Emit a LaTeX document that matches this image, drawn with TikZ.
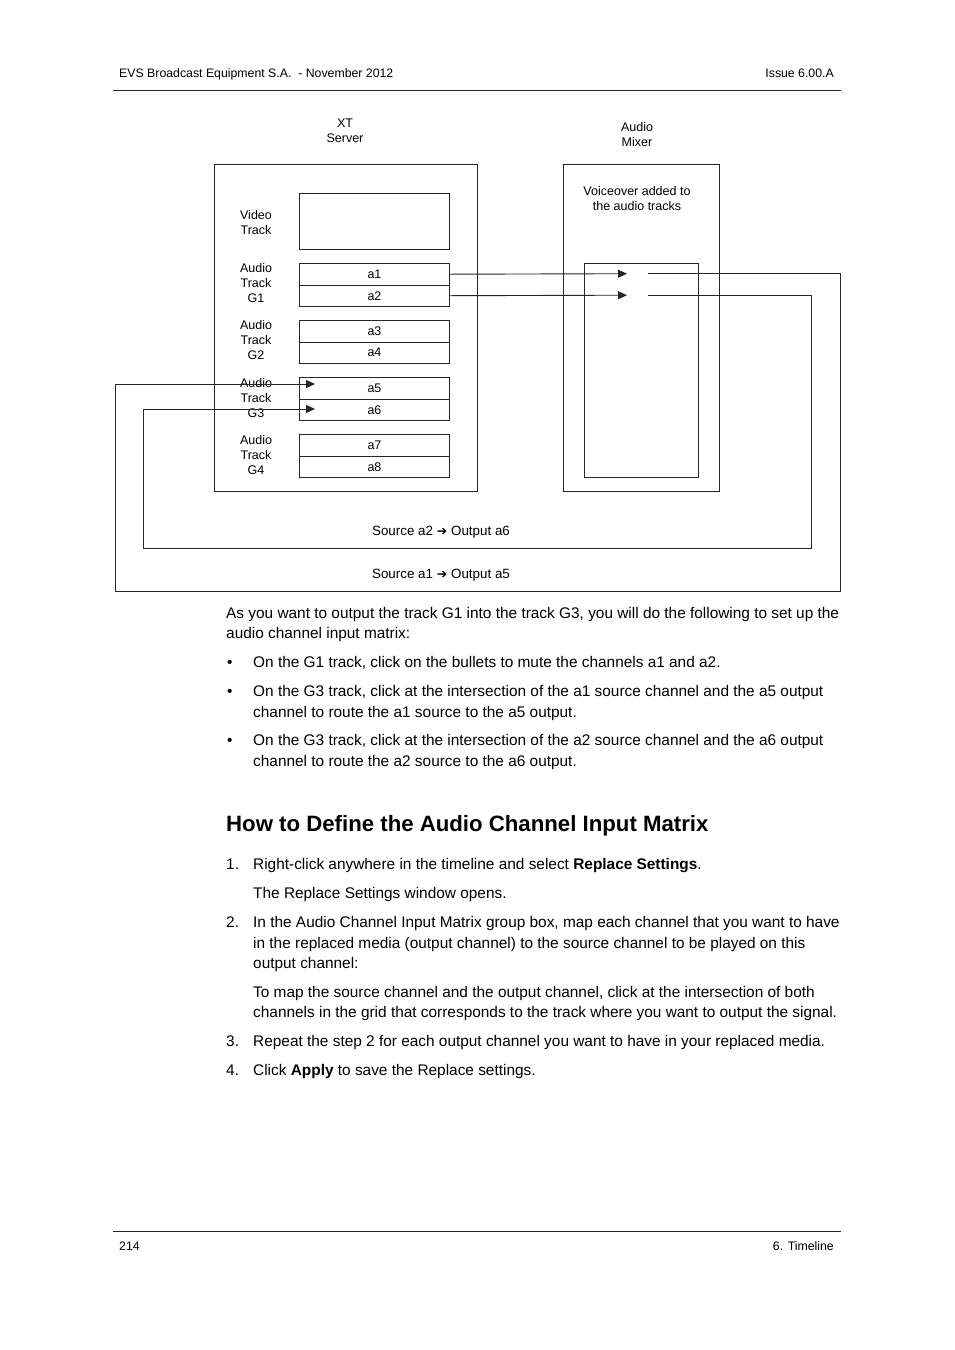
\documentclass[tikz,border=0pt]{standalone}
\usepackage{fontspec}
\setmainfont{Liberation Sans}
\newfontfamily\dejavu{DejaVu Sans}
\usetikzlibrary{arrows.meta}
\tikzset{
  ln/.style={line width=0.9pt, draw=black!85},
  box/.style={ln, rectangle, inner sep=0pt, anchor=north west},
  chan/.style={box, minimum width=150pt, minimum height=21.5pt, font=\fontsize{12.5}{15}\selectfont},
  lbl/.style={align=center, font=\fontsize{12.5}{15}\selectfont, inner sep=0pt},
  body/.style={anchor=base west, inner sep=0pt, font=\fontsize{15.4}{20}\selectfont},
  small/.style={anchor=base west, inner sep=0pt, font=\fontsize{12.3}{15}\selectfont},
  tip/.style={-{Triangle[length=9pt,width=8pt]}},
  route/.style={ln, rounded corners=0pt}
}
\begin{document}
\begin{tikzpicture}[x=1pt,y=-1pt]
\useasboundingbox[fill=white] (0,0) rectangle (954,1350);
% header / footer
\node[small] (hdrL) at (119,77) {EVS Broadcast Equipment S.A. \ - November 2012};
\node[small, anchor=base east] (hdrR) at (834,77) {Issue 6.00.A};
\draw[ln] (113,90) -- (841,90);
\draw[ln] (113,1231) -- (841,1231);
\node[small] (ftrL) at (119,1250) {214};
\node[small, anchor=base east] (ftrR) at (834,1250) {6. Timeline};

% diagram titles
\node[lbl] (xt) at (345,130.5) {XT\\Server};
\node[lbl] (am) at (637,134.5) {Audio\\Mixer};
% XT box
\node[box, minimum width=263pt, minimum height=327pt] (xtbox) at (214,164) {};
\node[box, minimum width=150pt, minimum height=56pt] (video) at (299,193) {};
\node[lbl] (vlab) at (256,222.5) {Video\\Track};
\node[chan] (a1) at (299,263) {a1};
\node[chan] (a2) at (299,284.5) {a2};
\node[chan] (a3) at (299,320) {a3};
\node[chan] (a4) at (299,341.5) {a4};
\node[chan] (a5) at (299,377) {a5};
\node[chan] (a6) at (299,398.5) {a6};
\node[chan] (a7) at (299,434) {a7};
\node[chan] (a8) at (299,455.5) {a8};
\node[lbl] (g1) at (256,283.5) {Audio\\Track\\G1};
\node[lbl] (g2) at (256,340.5) {Audio\\Track\\G2};
\node[lbl] (g3) at (256,398) {Audio\\Track\\G3};
\node[lbl] (g4) at (256,455) {Audio\\Track\\G4};
% mixer
\node[box, minimum width=156pt, minimum height=327pt] (mixbox) at (563,164) {};
\node[lbl] (voice) at (637,198.5) {Voiceover added to\\the audio tracks};
\node[box, minimum width=114pt, minimum height=214pt] (inner) at (584,263) {};
% arrow tips / coordinates
\coordinate (t1) at (627,273.7);
\coordinate (t2) at (627,295.2);
\coordinate (s1) at (648,273.7);
\coordinate (s2) at (648,295.2);
\coordinate (t5) at (315,384);
\coordinate (t6) at (315,409);
% connectors
\draw[ln, tip] (a1.east) -- (t1);
\draw[ln, tip] (a2.east) -- (t2);
\draw[ln, tip] (s1) -- (840,273.7) -- (840,591) -- (115,591) -- (115,384) -- (t5);
\draw[ln, tip] (s2) -- (811,295.2) -- (811,548) -- (143,548) -- (143,409) -- (t6);
\node[lbl, font=\fontsize{13.4}{15}\selectfont] (src2) at (441,532.5) {Source a2 {\dejavu\fontsize{12.5}{14}\selectfont ➔} Output a6};
\node[lbl, font=\fontsize{13.4}{15}\selectfont] (src1) at (441,575.5) {Source a1 {\dejavu\fontsize{12.5}{14}\selectfont ➔} Output a5};

% body text
\node[body] (p1) at (226,618) {As you want to output the track G1 into the track G3, you will do the following to set up the};
\node[body] (p2) at (226,638) {audio channel input matrix:};
\node[body] (b1) at (227,667) {•};
\node[body] (b1t) at (253,667) {On the G1 track, click on the bullets to mute the channels a1 and a2.};
\node[body] (b2) at (227,696) {•};
\node[body] (b2t) at (253,696) {On the G3 track, click at the intersection of the a1 source channel and the a5 output};
\node[body] (b2u) at (253,717) {channel to route the a1 source to the a5 output.};
\node[body] (b3) at (227,745) {•};
\node[body] (b3t) at (253,745) {On the G3 track, click at the intersection of the a2 source channel and the a6 output};
\node[body] (b3u) at (253,766) {channel to route the a2 source to the a6 output.};

\node[body, font=\fontsize{22.2}{26}\bfseries] (head) at (226,831) {How to Define the Audio Channel Input Matrix};

\node[body] (n1) at (226,869) {1.};
\node[body] (n1t) at (253,869) {Right-click anywhere in the timeline and select \textbf{Replace Settings}.};
\node[body] (n1u) at (253,898) {The Replace Settings window opens.};
\node[body] (n2) at (226,927) {2.};
\node[body] (n2t) at (253,927) {In the Audio Channel Input Matrix group box, map each channel that you want to have};
\node[body] (n2u) at (253,948) {in the replaced media (output channel) to the source channel to be played on this};
\node[body] (n2v) at (253,968) {output channel:};
\node[body] (n2w) at (253,997) {To map the source channel and the output channel, click at the intersection of both};
\node[body] (n2x) at (253,1017) {channels in the grid that corresponds to the track where you want to output the signal.};
\node[body] (n3) at (226,1046) {3.};
\node[body] (n3t) at (253,1046) {Repeat the step 2 for each output channel you want to have in your replaced media.};
\node[body] (n4) at (226,1075) {4.};
\node[body] (n4t) at (253,1075) {Click \textbf{Apply} to save the Replace settings.};
\end{tikzpicture}
\end{document}
